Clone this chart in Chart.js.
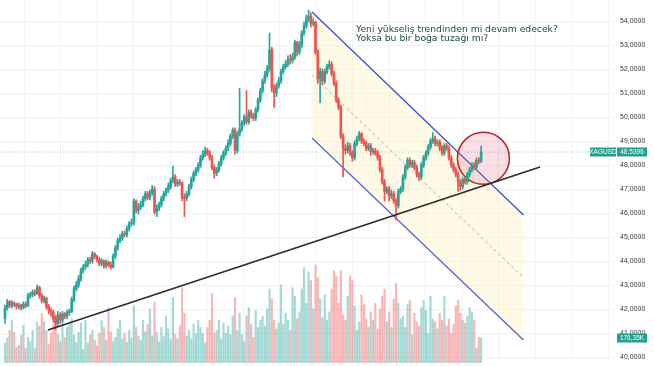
<!DOCTYPE html>
<html><head><meta charset="utf-8">
<script src="https://cdn.jsdelivr.net/npm/chart.js@4.4.1/dist/chart.umd.min.js"></script>
<style>html,body{margin:0;padding:0;background:#fff;overflow:hidden}#wrap{width:654px;height:366px}</style>
</head><body><div id="wrap"><canvas id="c" width="654" height="366"></canvas></div>
<script>
const opens = [
41.60,42.05,42.30,42.15,42.25,42.20,42.10,42.15,42.05,42.20,
42.15,42.55,42.60,42.70,42.65,42.90,42.55,42.35,42.45,42.10,
41.95,41.85,41.60,41.40,41.75,41.55,41.80,41.70,41.85,41.90,
42.40,42.85,43.00,43.25,43.60,43.75,43.85,44.05,44.00,44.30,
44.20,44.05,43.90,44.00,43.80,43.95,43.85,43.75,44.20,44.55,
44.85,44.95,45.15,45.10,45.35,45.55,45.60,46.50,46.10,46.25,
46.35,46.60,46.80,46.65,46.85,47.00,46.05,46.20,46.35,46.60,
46.80,46.95,47.10,47.35,47.50,47.20,47.30,47.25,46.65,46.60,
46.80,47.10,47.40,47.65,47.80,48.00,48.30,48.45,48.60,48.50,
48.30,47.90,47.65,47.80,48.05,48.30,48.50,48.70,48.90,49.20,
49.45,48.60,49.30,49.50,49.75,50.00,49.80,50.20,50.05,49.95,
50.30,50.70,51.10,51.50,51.75,52.00,52.80,51.20,51.00,51.30,
51.50,51.90,52.10,52.20,52.40,52.35,52.50,53.10,52.70,53.00,
53.50,53.80,54.10,54.20,53.90,53.95,52.70,51.60,51.90,51.50,
51.90,52.10,52.20,51.80,51.40,50.70,50.40,49.20,48.70,48.60,
48.80,48.50,48.30,48.90,49.10,49.30,49.00,48.90,48.70,48.80,
48.55,48.60,48.50,48.30,47.80,47.30,46.90,47.00,46.70,46.80,
46.50,46.30,46.90,47.00,47.50,47.90,48.20,48.00,48.10,47.90,
47.60,47.50,48.00,48.30,48.50,48.75,49.00,49.10,48.90,48.95,
48.70,48.50,48.80,48.70,48.30,48.00,47.80,47.60,47.30,47.10,
47.40,47.30,47.60,47.80,48.00,47.90,48.20,48.15];
const highs = [
42.15,42.40,42.35,42.35,42.30,42.25,42.25,42.20,42.30,42.30,
42.65,42.70,42.80,42.80,43.00,42.95,42.65,42.55,42.50,42.20,
42.05,41.95,41.70,41.90,41.85,41.90,41.85,41.95,42.00,42.50,
42.95,43.15,43.40,43.70,43.85,44.00,44.15,44.15,44.40,44.35,
44.25,44.15,44.10,44.05,44.05,44.00,43.95,44.30,44.65,44.95,
45.10,45.25,45.25,45.45,45.65,45.75,46.60,46.55,46.40,46.50,
46.70,46.90,46.90,46.95,47.15,47.10,46.35,46.45,46.70,46.90,
47.05,47.25,47.45,47.95,47.60,47.40,47.40,47.30,46.80,46.90,
47.20,47.50,47.75,47.90,48.10,48.40,48.60,48.75,48.70,48.60,
48.40,48.00,47.90,48.15,48.40,48.60,48.80,49.05,49.30,49.55,
49.55,49.40,51.20,49.85,50.10,51.10,50.30,50.30,50.15,50.40,
50.80,51.20,51.60,51.90,52.15,53.50,52.90,51.35,51.40,51.65,
52.00,52.20,52.35,52.55,52.60,52.65,53.20,53.15,53.15,53.60,
53.95,54.25,54.45,54.35,54.10,54.00,52.80,52.05,52.00,52.00,
52.20,52.35,52.30,51.90,51.50,50.80,50.50,49.30,48.85,48.95,
48.90,48.60,49.00,49.20,49.40,49.35,49.10,49.00,48.90,48.90,
48.70,48.70,48.60,48.40,47.90,47.40,47.10,47.10,46.95,46.90,
46.60,47.00,47.10,47.60,48.00,48.30,48.30,48.20,48.20,48.00,
47.70,48.10,48.40,48.60,48.85,49.10,49.35,49.20,49.05,49.05,
48.80,48.90,48.90,48.80,48.40,48.10,47.90,47.70,47.40,47.50,
47.50,47.70,47.90,48.10,48.10,48.30,48.30,48.80];
const lows = [
41.40,41.95,42.05,42.05,42.10,42.00,42.00,41.95,42.00,42.05,
42.10,42.45,42.50,42.55,42.60,42.45,42.25,42.25,42.00,41.80,
41.70,41.45,41.15,41.30,41.40,41.45,41.60,41.60,41.75,41.85,
42.30,42.75,42.90,43.15,43.50,43.65,43.75,43.90,43.90,44.10,
43.95,43.80,43.80,43.70,43.70,43.75,43.65,43.70,44.10,44.45,
44.75,44.85,45.00,45.00,45.25,45.45,45.50,46.00,45.95,46.15,
46.25,46.50,46.55,46.55,46.75,45.95,45.85,46.10,46.25,46.50,
46.70,46.85,47.00,47.25,47.10,47.10,47.15,46.50,45.85,46.50,
46.70,47.00,47.30,47.55,47.70,47.90,48.20,48.35,48.40,48.20,
47.80,47.45,47.55,47.70,47.95,48.20,48.40,48.60,48.80,49.10,
48.45,48.50,49.20,49.40,49.65,49.70,49.70,49.95,49.85,49.85,
50.20,50.60,51.00,51.40,51.65,51.90,51.05,50.40,50.85,51.20,
51.40,51.80,52.00,52.10,52.20,52.25,52.40,52.55,52.60,52.90,
53.40,53.70,53.95,53.75,53.80,52.60,51.40,50.60,51.35,51.40,
51.80,52.00,51.70,51.30,50.60,50.30,49.10,47.50,48.45,48.50,
48.40,48.15,48.20,48.80,49.00,48.90,48.80,48.60,48.60,48.40,
48.45,48.40,48.20,47.70,47.20,46.50,46.80,46.50,46.60,46.40,
45.70,46.20,46.80,46.90,47.40,47.80,47.90,47.90,47.80,47.50,
47.35,47.40,47.90,48.20,48.40,48.65,48.90,48.80,48.80,48.60,
48.40,48.40,48.60,48.20,47.90,47.70,47.50,46.90,46.95,47.00,
47.20,47.20,47.50,47.70,47.80,47.85,48.05,48.10];
const closes = [
42.05,42.30,42.15,42.25,42.20,42.10,42.15,42.05,42.20,42.15,
42.55,42.60,42.70,42.65,42.90,42.55,42.35,42.45,42.10,41.95,
41.85,41.60,41.40,41.75,41.55,41.80,41.70,41.85,41.90,42.40,
42.85,43.00,43.25,43.60,43.75,43.85,44.05,44.00,44.30,44.20,
44.05,43.90,44.00,43.80,43.95,43.85,43.75,44.20,44.55,44.85,
44.95,45.15,45.10,45.35,45.55,45.60,46.50,46.10,46.25,46.35,
46.60,46.80,46.65,46.85,47.00,46.05,46.20,46.35,46.60,46.80,
46.95,47.10,47.35,47.50,47.20,47.30,47.25,46.65,46.60,46.80,
47.10,47.40,47.65,47.80,48.00,48.30,48.45,48.60,48.50,48.30,
47.90,47.65,47.80,48.05,48.30,48.50,48.70,48.90,49.20,49.45,
48.60,49.30,49.50,49.75,50.00,49.80,50.20,50.05,49.95,50.30,
50.70,51.10,51.50,51.75,52.00,52.80,51.20,51.00,51.30,51.50,
51.90,52.10,52.20,52.40,52.35,52.50,53.10,52.70,53.00,53.50,
53.80,54.10,54.20,53.90,53.95,52.70,51.60,51.90,51.50,51.90,
52.10,52.20,51.80,51.40,50.70,50.40,49.20,48.70,48.60,48.80,
48.50,48.30,48.90,49.10,49.30,49.00,48.90,48.70,48.80,48.55,
48.60,48.50,48.30,47.80,47.30,46.90,47.00,46.70,46.80,46.50,
46.30,46.90,47.00,47.50,47.90,48.20,48.00,48.10,47.90,47.60,
47.50,48.00,48.30,48.50,48.75,49.00,49.10,48.90,48.95,48.70,
48.50,48.80,48.70,48.30,48.00,47.80,47.60,47.30,47.10,47.40,
47.30,47.60,47.80,48.00,47.90,48.20,48.15,48.5396];
const volumes = [
140,175,230,300,215,110,125,195,265,105,
180,150,230,105,290,260,350,290,230,130,
210,270,340,200,150,300,180,250,270,310,
200,145,215,280,95,300,140,200,230,160,
120,210,300,250,160,390,220,150,180,240,
300,170,210,145,230,175,400,250,190,160,
300,220,270,380,190,430,215,150,250,185,
330,240,165,460,200,170,260,530,350,190,
230,170,275,205,300,250,210,140,250,300,
490,210,230,300,170,280,210,260,200,330,
460,230,350,200,150,330,390,270,180,370,
250,300,330,260,380,520,450,300,240,280,
550,270,350,300,230,530,470,310,360,520,
670,420,640,580,380,690,600,450,320,480,
300,360,520,650,610,420,650,340,300,470,
610,580,400,230,290,480,410,310,250,360,
300,420,240,380,470,520,290,360,250,450,
560,420,310,330,250,410,440,200,350,290,
260,390,440,370,210,470,310,290,240,350,
300,470,260,310,210,270,400,440,350,300,
280,330,390,360,300,105,180,176.35];
const priceTicks = [40,41,42,43,44,45,46,47,48,49,50,51,52,53,54];
const symbol = 'XAGUSD';
const noteLines = ['Yeni yükseliş trendinden mi devam edecek?', 'Yoksa bu bir boğa tuzağı mı?'];
// drawings (bar index, price)
const channelUpper = [{x:133.5,y:54.375},{x:225.4,y:45.92}];
const channelLower = [{x:133.5,y:49.125},{x:225.4,y:40.71}];
const channelMid   = [{x:133.5,y:51.75},{x:225.4,y:43.31}];
const supportLine  = [{x:18.7,y:41.125},{x:232.6,y:47.917}];
const circleCenter = [{x:208.0,y:48.28}];

const UP = '#26a69a', DOWN = '#ef5350';
const UPV = 'rgba(38,166,154,0.42)', DOWNV = 'rgba(239,83,80,0.42)';
const TAG = '#22a08c';
const N = closes.length;
const last = closes[N-1];
const candleCol = closes.map((c,i)=> c >= opens[i] ? UP : DOWN);
const volCol = closes.map((c,i)=> c >= opens[i] ? UPV : DOWNV);
const priceLine = [{x:-2.2,y:last},{x:254.3,y:last}];

const gridColor = 'rgba(42,46,57,0.06)';
const XMIN = -2.17, XMAX = 265.2;

const overlay = {
  id:'overlay',
  afterDraw(chart){
    const {ctx, chartArea:a, scales} = chart;
    const y = scales.y, yv = scales.yv;
    ctx.save();
    let fs = 10;
    ctx.font = fs+'px "DejaVu Sans"';
    const w = ctx.measureText(noteLines[0]).width;
    fs = fs*202/w;
    ctx.font = fs.toFixed(2)+'px "DejaVu Sans"';
    ctx.fillStyle = '#1d4a42';
    ctx.textBaseline = 'alphabetic';
    ctx.textAlign = 'left';
    ctx.fillText(noteLines[0], 356, 32);
    ctx.fillText(noteLines[1], 356, 41);
    const py = Math.round(y.getPixelForValue(last));
    ctx.fillStyle = TAG;
    ctx.fillRect(a.right-25, py-4.5, 26, 9);
    ctx.fillRect(a.right+2, py-4.5, 30, 9);
    const vy = Math.round(yv.getPixelForValue(volumes[N-1]));
    ctx.fillRect(a.right+2, vy-4.5, 30, 9);
    ctx.fillStyle = '#fff';
    ctx.font = '6.5px "Liberation Sans"';
    ctx.textBaseline = 'middle';
    ctx.textAlign = 'center';
    ctx.fillText(symbol, a.right-12, py+0.5);
    ctx.fillText(last.toFixed(4).replace('.',','), a.right+17, py+0.5);
    ctx.fillText(volumes[N-1].toFixed(2).replace('.',',')+'K', a.right+17, vy+0.5);
    ctx.restore();
  }
};

new Chart(document.getElementById('c'), {
  type:'bar',
  data:{ datasets:[
    { type:'bar', label:'wick', data: highs.map((h,i)=>({x:i, y:[lows[i], h]})), backgroundColor:candleCol, barThickness:1, grouped:false, order:2, yAxisID:'y' },
    { type:'bar', label:'body', data: opens.map((o,i)=>({x:i, y:[o, closes[i]]})), backgroundColor:candleCol, barThickness:2, minBarLength:1, grouped:false, order:1, yAxisID:'y' },
    { type:'bar', label:'vol', data: volumes.map((v,i)=>({x:i, y:v})), backgroundColor:volCol, barThickness:1.5, grouped:false, order:9, yAxisID:'yv' },
    { type:'line', label:'upper', data: channelUpper, borderColor:'#3552d6', borderWidth:1.3, pointRadius:0, fill:{target:4}, backgroundColor:'rgba(255,236,160,0.28)', order:7, yAxisID:'y' },
    { type:'line', label:'lower', data: channelLower, borderColor:'#3552d6', borderWidth:1.3, pointRadius:0, fill:false, order:7, yAxisID:'y' },
    { type:'line', label:'mid', data: channelMid, borderColor:'rgba(110,110,110,0.75)', borderWidth:1, borderDash:[3,3], pointRadius:0, fill:false, order:7, yAxisID:'y' },
    { type:'line', label:'support', data: supportLine, borderColor:'#2a2a2a', borderWidth:1.6, pointRadius:0, fill:false, order:0, yAxisID:'y' },
    { type:'line', label:'last', data: priceLine, borderColor:'rgba(38,166,154,0.55)', borderWidth:1, borderDash:[1,2], pointRadius:0, fill:false, order:8, yAxisID:'y' },
    { type:'scatter', label:'circle', data: circleCenter, pointRadius:26, pointBackgroundColor:'rgba(236,120,150,0.25)', pointBorderColor:'#b3262e', pointBorderWidth:1.5, order:3, yAxisID:'y' }
  ]},
  options:{
    responsive:false, animation:false, devicePixelRatio:1, events:[],
    layout:{autoPadding:false, padding:{top:0,bottom:3,left:0,right:0}},
    plugins:{legend:{display:false}, tooltip:{enabled:false}},
    scales:{
      x:{ type:'linear', min:XMIN, max:XMAX, offset:false,
          ticks:{display:false}, grid:{color:gridColor, drawTicks:false}, border:{display:false},
          afterBuildTicks:s=>{ const t=[]; for(let v=0.43; v<XMAX; v+=15.87) t.push({value:v}); s.ticks=t; },
          afterFit:s=>{ s.height = 0; s.paddingLeft = 0; s.paddingRight = 0; } },
      y:{ position:'right', min:39.75, max:54.875,
          afterBuildTicks:s=>{ s.ticks = priceTicks.map(v=>({value:v})); },
          ticks:{ font:{size:7, family:'"Liberation Sans"'}, color:'#3a3a3a', padding:5,
                  callback:v=> Number(v).toFixed(4).replace('.',',') },
          grid:{color:gridColor, drawTicks:false}, border:{display:false},
          afterFit:s=>{ s.width = 39; s.paddingTop = 0; s.paddingBottom = 0; } },
      yv:{ display:false, min:0, max:2553 }
    }
  },
  plugins:[overlay]
});
</script>
</body></html>
